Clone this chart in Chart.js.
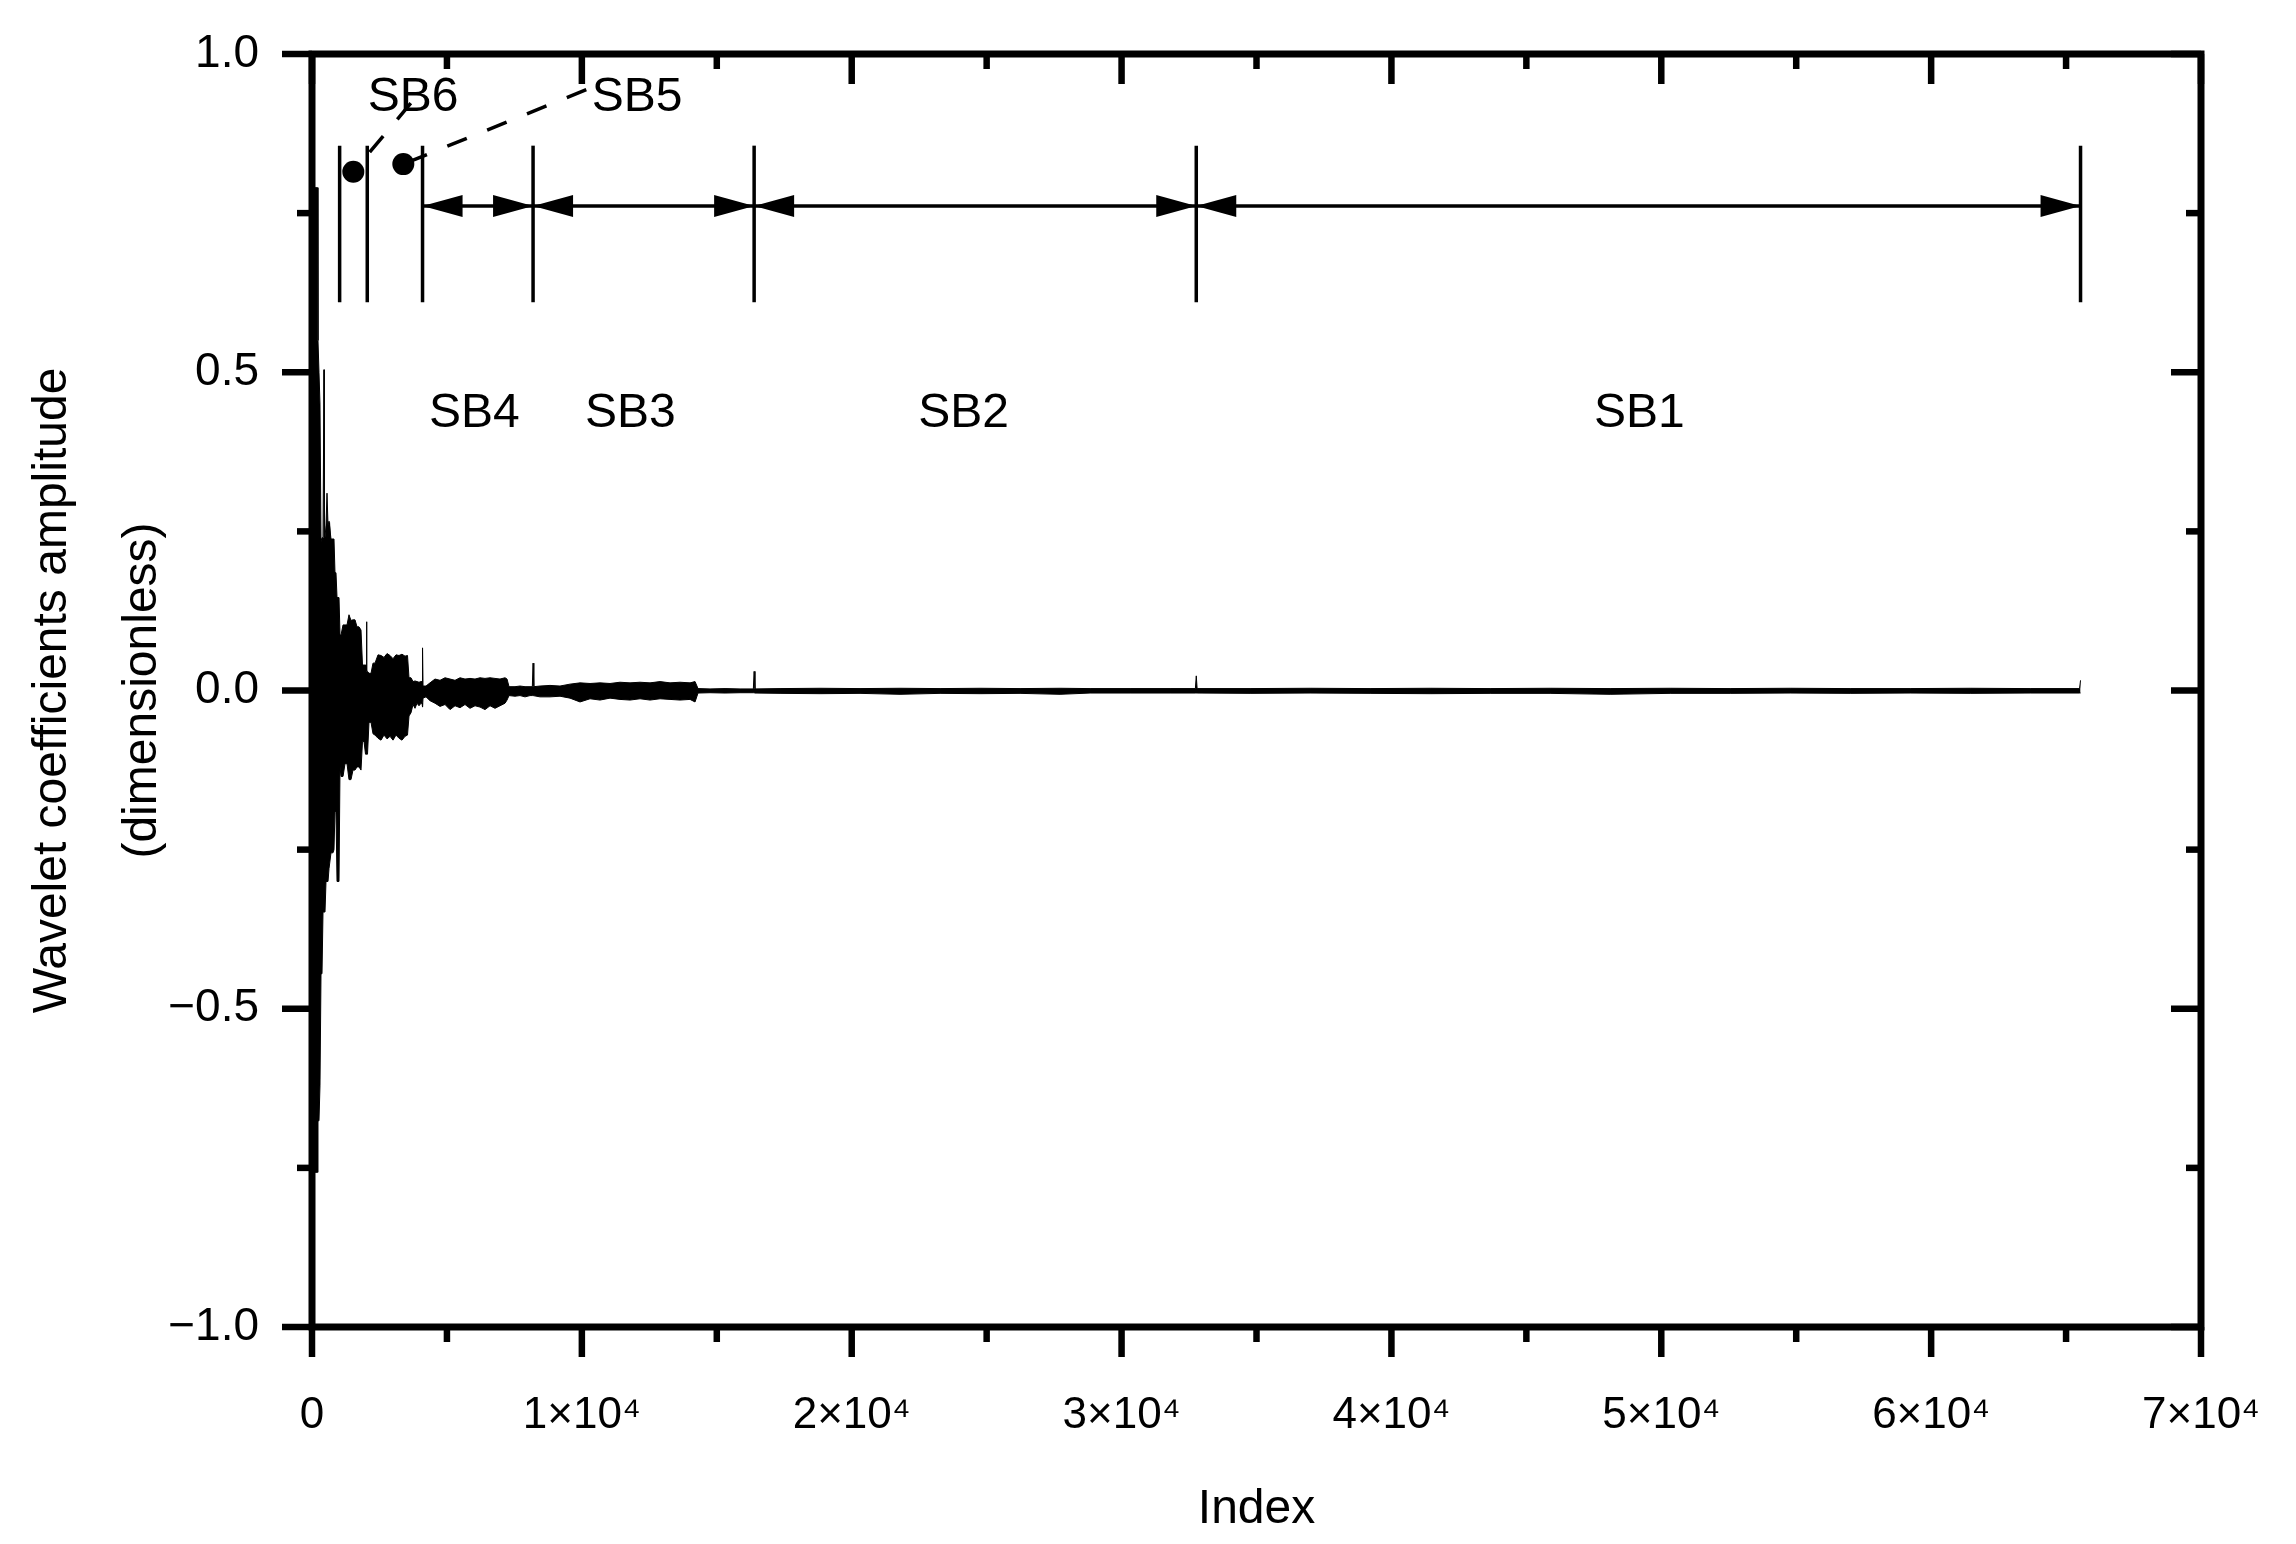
<!DOCTYPE html>
<html>
<head>
<meta charset="utf-8">
<title>Wavelet coefficients amplitude</title>
<script src="https://cdn.jsdelivr.net/npm/chart.js@4.4.1/dist/chart.umd.min.js"></script>
<style>
  html, body { margin: 0; padding: 0; background: #fff; }
  #chart { display: block; }
</style>
</head>
<body>
<canvas id="chart" width="2296" height="1544"></canvas>
<script>
// envelope of the coefficient trace: index, upper edge, lower edge
const envIdx = [
  0, 74, 148, 204, 222, 259, 296, 334, 371, 408, 435, 445, 455, 482, 519, 556, 593, 630, 667, 704, 741, 778, 815, 852, 889, 927, 964, 1001, 1038,
  1075, 1149, 1223, 1297, 1371, 1445, 1519, 1594, 1668, 1742, 1816, 1871, 1927, 1983, 2005, 2020, 2035, 2057,
  2112, 2187, 2261, 2335, 2446, 2557, 2668, 2780, 2891, 3002, 3113, 3224, 3335, 3447, 3539, 3595, 3669, 3743, 3817, 3891, 3965, 4040, 4077, 4096, 4114,
  4225, 4373, 4558, 4744, 4929, 5114, 5300, 5485, 5670, 5855, 6041, 6226, 6411, 6597, 6782, 6967, 7153, 7227, 7301, 7523, 7708, 7894, 8079, 8165, 8192, 8220,
  8450, 8820, 9191, 9561, 9932, 10303, 10673, 11044, 11414, 11785, 12156, 12526, 12897, 13267, 13638, 14009, 14194, 14305, 14750, 15306, 15862, 16355, 16384, 16415,
  17344, 18826, 20308, 21791, 23274, 24756, 26238, 27721, 28833, 30315, 31797, 32735, 32768, 32800,
  34762, 36986, 39209, 41433, 43657, 45880, 48104, 50327, 52551, 54775, 56998, 59222, 61445, 63669, 65500, 65536
];
const envTop = [
  0.79, 0.79, 0.79, 0.79, 0.55, 0.50, 0.45, 0.234, 0.24, 0.24, 0.24, 0.504, 0.24, 0.24, 0.26, 0.31, 0.26, 0.266, 0.266, 0.238, 0.238, 0.238, 0.238, 0.185, 0.185, 0.146, 0.146, 0.146, 0.087,
  0.087, 0.103, 0.103, 0.103, 0.119, 0.11, 0.111, 0.111, 0.10, 0.10, 0.095, 0.04, 0.04, 0.04, 0.04, 0.108, 0.03, 0.03,
  0.027, 0.027, 0.043, 0.043, 0.056, 0.055, 0.052, 0.058, 0.055, 0.05, 0.056, 0.055, 0.057, 0.054, 0.055, 0.02, 0.02, 0.014, 0.015, 0.014, 0.013, 0.014, 0.014, 0.067, 0.007,
  0.007, 0.012, 0.018, 0.016, 0.02, 0.018, 0.016, 0.02, 0.018, 0.019, 0.018, 0.02, 0.019, 0.02, 0.019, 0.018, 0.02, 0.018, 0.006, 0.006, 0.007, 0.006, 0.006, 0.006, 0.043, 0.006,
  0.007, 0.008, 0.007, 0.01, 0.012, 0.011, 0.012, 0.011, 0.013, 0.012, 0.013, 0.012, 0.014, 0.012, 0.013, 0.012, 0.014, 0.003, 0.0025, 0.003, 0.0025, 0.0025, 0.03, 0.0025,
  0.003, 0.0035, 0.003, 0.0035, 0.003, 0.0035, 0.003, 0.0035, 0.003, 0.003, 0.003, 0.003, 0.023, 0.003,
  0.003, 0.0035, 0.003, 0.0035, 0.003, 0.0035, 0.003, 0.0035, 0.003, 0.0035, 0.003, 0.003, 0.0035, 0.003, 0.003, 0.016
];
const envBot = [
  -0.757, -0.757, -0.757, -0.757, -0.676, -0.676, -0.62, -0.445, -0.445, -0.348, -0.348, -0.348, -0.348, -0.348, -0.30, -0.30, -0.30, -0.28, -0.28, -0.255, -0.255, -0.255, -0.25, -0.19, -0.19, -0.30, -0.30, -0.30, -0.12,
  -0.135, -0.135, -0.115, -0.115, -0.14, -0.14, -0.125, -0.125, -0.12, -0.12, -0.125, -0.08, -0.08, -0.10, -0.10, -0.10, -0.10, -0.10,
  -0.05, -0.05, -0.068, -0.07, -0.075, -0.078, -0.07, -0.076, -0.072, -0.078, -0.07, -0.075, -0.078, -0.072, -0.07, -0.04, -0.035, -0.022, -0.028, -0.02, -0.024, -0.02, -0.02, -0.026, -0.012,
  -0.01, -0.016, -0.02, -0.025, -0.022, -0.03, -0.024, -0.027, -0.022, -0.028, -0.024, -0.026, -0.03, -0.024, -0.028, -0.024, -0.02, -0.015, -0.008, -0.009, -0.008, -0.01, -0.008, -0.008, -0.008, -0.008,
  -0.01, -0.01, -0.009, -0.012, -0.018, -0.013, -0.015, -0.012, -0.014, -0.015, -0.013, -0.015, -0.013, -0.014, -0.015, -0.014, -0.018, -0.004, -0.0035, -0.004, -0.0035, -0.0035, -0.0035, -0.004,
  -0.0045, -0.005, -0.0045, -0.006, -0.0045, -0.005, -0.0045, -0.006, -0.004, -0.004, -0.004, -0.004, -0.004, -0.004,
  -0.0045, -0.004, -0.0045, -0.005, -0.0045, -0.0045, -0.006, -0.0045, -0.0045, -0.004, -0.0045, -0.004, -0.0045, -0.004, -0.004, -0.004
];

// subband boundaries and labels
const bandEdges = [1024, 2048, 4096, 8192, 16384, 32768, 65536];
const bandNames = ['SB6', 'SB5', 'SB4', 'SB3', 'SB2', 'SB1'];
const nameIdx = [3743, 12045, 6019, 11797, 24144, 49186];
const nameVal = [0.931, 0.931, 0.434, 0.434, 0.434, 0.434];
const markLow = 0.61, markHigh = 0.856, arrowLevel = 0.761;

// callout dots for SB6 / SB5 and the end of their leaders
const dotIdx = [1531, 3384];
const dotVal = [0.815, 0.827];
const leadIdx = [3706, 10228];
const leadVal = [0.925, 0.945];

// axes
const xTickVals = [0, 10000, 20000, 30000, 40000, 50000, 60000, 70000];
const xTickLabels = ['0', '1×10⁴', '2×10⁴', '3×10⁴', '4×10⁴', '5×10⁴', '6×10⁴', '7×10⁴'];
const xMinor = [5000, 15000, 25000, 35000, 45000, 55000, 65000];
const yTickVals = [-1, -0.5, 0, 0.5, 1];
const yTickLabels = ['−1.0', '−0.5', '0.0', '0.5', '1.0'];
const yMinor = [-0.75, -0.25, 0.25, 0.75];

const FONT = '"Liberation Sans", Arial, Helvetica, sans-serif';

function seg(c, x1, y1, x2, y2) {
  c.beginPath(); c.moveTo(x1, y1); c.lineTo(x2, y2); c.stroke();
}

function head(c, tipX, y, dir) {
  c.beginPath();
  c.moveTo(tipX, y);
  c.lineTo(tipX - dir * 40, y - 11);
  c.lineTo(tipX - dir * 40, y + 11);
  c.closePath();
  c.fill();
}

const decor = {
  id: 'decor',
  beforeDraw(chart) {
    const c = chart.ctx;
    c.save();
    c.fillStyle = '#fff';
    c.fillRect(0, 0, chart.width, chart.height);
    c.restore();
  },
  afterDatasetsDraw(chart) {
    const {ctx: c, scales: {x, y}} = chart;
    c.save();
    c.strokeStyle = '#000';
    c.fillStyle = '#000';
    c.lineWidth = 3.5;
    const y0 = y.getPixelForValue(markLow), y1 = y.getPixelForValue(markHigh);
    bandEdges.forEach(v => {
      const px = x.getPixelForValue(v);
      seg(c, px, y0, px, y1);
    });
    const ya = y.getPixelForValue(arrowLevel);
    for (let i = 2; i < bandEdges.length - 1; i++) {
      const a = x.getPixelForValue(bandEdges[i]);
      const b = x.getPixelForValue(bandEdges[i + 1]);
      seg(c, a, ya, b, ya);
      head(c, a, ya, -1);
      head(c, b, ya, 1);
    }
    // dashed leaders from the dots to SB6 / SB5
    const dashOff = [17.5, 38.5];
    c.setLineDash([21, 22]);
    for (let i = 0; i < dotIdx.length; i++) {
      c.lineDashOffset = dashOff[i];
      seg(c, x.getPixelForValue(dotIdx[i]), y.getPixelForValue(dotVal[i]),
        x.getPixelForValue(leadIdx[i]), y.getPixelForValue(leadVal[i]));
    }
    c.setLineDash([]);
    c.font = '48px ' + FONT;
    c.textAlign = 'center';
    c.textBaseline = 'middle';
    bandNames.forEach((t, i) => {
      c.fillText(t, x.getPixelForValue(nameIdx[i]), y.getPixelForValue(nameVal[i]));
    });
    c.restore();
  },
  afterDraw(chart) {
    const {ctx: c, chartArea: a, scales: {x, y}} = chart;
    c.save();
    c.strokeStyle = '#000';
    c.lineWidth = 6.5;
    xTickVals.forEach(v => {
      const px = x.getPixelForValue(v);
      seg(c, px, a.bottom, px, a.bottom + 30);
      seg(c, px, a.top, px, a.top + 30);
    });
    xMinor.forEach(v => {
      const px = x.getPixelForValue(v);
      seg(c, px, a.bottom, px, a.bottom + 15);
      seg(c, px, a.top, px, a.top + 15);
    });
    yTickVals.forEach(v => {
      const py = y.getPixelForValue(v);
      seg(c, a.left, py, a.left - 30, py);
      seg(c, a.right, py, a.right - 30, py);
    });
    yMinor.forEach(v => {
      const py = y.getPixelForValue(v);
      seg(c, a.left, py, a.left - 15, py);
      seg(c, a.right, py, a.right - 15, py);
    });
    c.lineWidth = 7;
    c.strokeRect(a.left, a.top, a.right - a.left, a.bottom - a.top);
    c.restore();
  }
};

const upper = envIdx.map((v, i) => ({x: v, y: envTop[i]}));
const lower = envIdx.map((v, i) => ({x: v, y: envBot[i]}));
const dots = dotIdx.map((v, i) => ({x: v, y: dotVal[i]}));

new Chart(document.getElementById('chart'), {
  type: 'line',
  data: {
    datasets: [
      {
        type: 'scatter',
        data: dots,
        pointRadius: 11,
        pointBackgroundColor: '#000',
        pointBorderWidth: 0,
        showLine: false
      },
      {
        data: upper,
        borderColor: '#000',
        borderWidth: 1,
        pointRadius: 0,
        fill: false
      },
      {
        data: lower,
        borderColor: '#000',
        backgroundColor: '#000',
        borderWidth: 1,
        pointRadius: 0,
        fill: '-1'
      }
    ]
  },
  options: {
    responsive: false,
    animation: false,
    devicePixelRatio: 1,
    layout: { padding: { left: 0, right: 95, top: 54, bottom: 0 } },
    plugins: {
      legend: { display: false },
      tooltip: { enabled: false }
    },
    scales: {
      x: {
        type: 'linear',
        min: 0,
        max: 70000,
        afterBuildTicks: s => { s.ticks = xTickVals.map(v => ({value: v})); },
        afterFit: s => {
          s.height = 217;
          s.paddingLeft = 0; s.paddingRight = 0;
        },
        grid: { display: false, drawTicks: false },
        border: { display: false },
        ticks: {
          autoSkip: false,
          maxRotation: 0,
          padding: 62,
          color: '#000',
          font: { family: FONT, size: 44 },
          callback: v => xTickLabels[xTickVals.indexOf(v)]
        },
        title: {
          display: true,
          text: 'Index',
          color: '#000',
          font: { family: FONT, size: 48 },
          padding: { top: 0, bottom: 5 }
        }
      },
      y: {
        type: 'linear',
        min: -1,
        max: 1,
        afterBuildTicks: s => { s.ticks = yTickVals.map(v => ({value: v})); },
        afterFit: s => {
          s.width = 312;
          s.paddingTop = 0; s.paddingBottom = 0;
        },
        grid: { display: false, drawTicks: false },
        border: { display: false },
        ticks: {
          padding: 53,
          color: '#000',
          font: { family: FONT, size: 46 },
          callback: v => yTickLabels[yTickVals.indexOf(v)]
        },
        title: {
          display: true,
          text: ['Wavelet coefficients amplitude', '(dimensionless)'],
          color: '#000',
          font: { family: FONT, size: 48, lineHeight: 1.875 },
          padding: { top: 8, bottom: 0 }
        }
      }
    }
  },
  plugins: [decor]
});
</script>
</body>
</html>
